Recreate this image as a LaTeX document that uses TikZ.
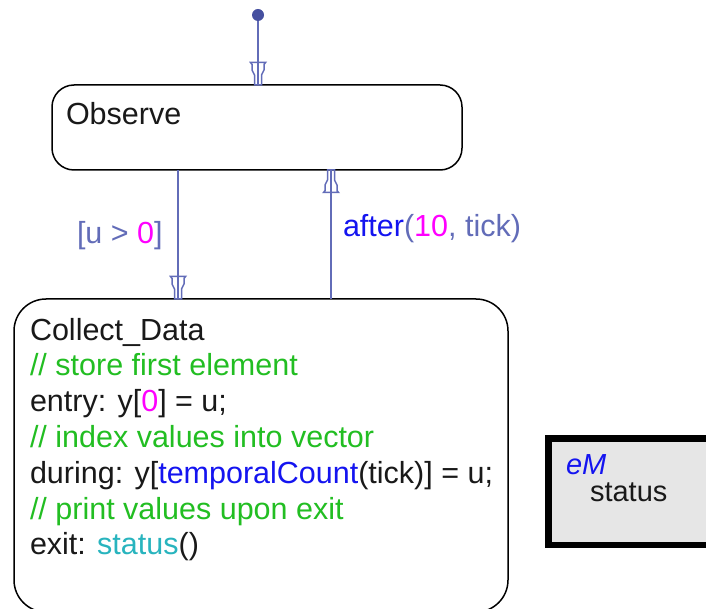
\documentclass[tikz,border=0pt]{standalone}
\usepackage{fontspec}
\setmainfont{Liberation Sans}
\definecolor{trcol}{RGB}{98,108,184}
\definecolor{initcol}{RGB}{70,80,160}
\definecolor{cmtgreen}{RGB}{34,190,34}
\definecolor{numcol}{RGB}{255,0,255}
\definecolor{kwblue}{RGB}{20,20,240}
\definecolor{fncyan}{RGB}{40,180,190}
\definecolor{txtcol}{RGB}{25,25,25}
\definecolor{fnfill}{RGB}{230,230,230}
\pgfdeclarearrow{
  name=SF,
  setup code={
    \pgfarrowssettipend{0pt}
    \pgfarrowssetlineend{0pt}
    \pgfarrowssetbackend{-23pt}
    \pgfarrowssetvisualbackend{-23pt}
  },
  drawing code={
    \pgfsetdash{}{0pt}
    \pgfsetmiterjoin
    \pgfpathmoveto{\pgfqpoint{0pt}{3.5pt}}
    \pgfpathlineto{\pgfqpoint{-10pt}{3.5pt}}
    \pgfpathlineto{\pgfqpoint{-15pt}{6pt}}
    \pgfpathlineto{\pgfqpoint{-20.5pt}{6pt}}
    \pgfpathlineto{\pgfqpoint{-22.5pt}{7.5pt}}
    \pgfpathlineto{\pgfqpoint{-22.5pt}{-7.5pt}}
    \pgfpathlineto{\pgfqpoint{-20.5pt}{-6pt}}
    \pgfpathlineto{\pgfqpoint{-15pt}{-6pt}}
    \pgfpathlineto{\pgfqpoint{-10pt}{-3.5pt}}
    \pgfpathlineto{\pgfqpoint{0pt}{-3.5pt}}
    \pgfpathclose
    \pgfusepathqstroke
  }
}
\begin{document}
\begin{tikzpicture}[x=1pt,y=-1pt,
  every node/.style={inner sep=0pt, outer sep=0pt},
  state/.style={draw=black, line width=1.5pt, fill=white},
  txt/.style={anchor=base west, text=txtcol, font=\fontsize{30.5}{36}\selectfont},
  trans/.style={draw=trcol, line width=1.5pt, -SF},
  lbl/.style={anchor=base west, text=trcol, font=\fontsize{30.5}{36}\selectfont}
]
\useasboundingbox (0,0) rectangle (706,609);
\clip (0,0) rectangle (706,609);

% states
\node[state, rounded corners=22pt, minimum width=410pt, minimum height=85pt] (obs) at (257,127.5) {};
\node[state, rounded corners=32pt, minimum width=494pt, minimum height=313pt] (cd) at (261,455.5) {};

\node[txt] (obsT) at (66,125) {Observe};

\node[txt] (cd1) at (30,340) {Collect\_Data};
\node[txt, text=cmtgreen] (cd2) at (30,375.8) {// store first element};
\node[txt] (cd3) at (30,411.6) {entry: y[\textcolor{numcol}{0}] = u;};
\node[txt, text=cmtgreen] (cd4) at (30,447.4) {// index values into vector};
\node[txt] (cd5) at (30,483.2) {during: y[\textcolor{kwblue}{temporalCount}(tick)] = u;};
\node[txt, text=cmtgreen] (cd6) at (30,519) {// print values upon exit};
\node[txt] (cd7) at (30,554.8) {exit: \textcolor{fncyan}{status}()};

% default transition
\node[circle, fill=initcol, minimum size=12pt] (init) at (258,15) {};
\draw[trans] (init) -- (init |- obs.north);

% transitions
\coordinate (xd) at (178,0);
\coordinate (xu) at (331,0);
\draw[trans] (xd |- obs.south) -- (xd |- cd.north);
\draw[trans] (xu |- cd.north) -- (xu |- obs.south);

\node[lbl] (l1) at (77,244) {[u > \textcolor{numcol}{0}]};
\node[lbl] (l2) at (343,237) {\textcolor{kwblue}{after}(\textcolor{numcol}{10}, tick)};

% graphical function
\node[draw=black, line width=6.5pt, fill=fnfill, minimum width=190pt, minimum height=106.5pt, anchor=north west] (fn) at (548.5,438.5) {};
\node[anchor=base west, text=kwblue, font=\fontsize{29}{34}\selectfont\itshape] (fnK) at (566,474) {eM};
\node[txt, font=\fontsize{29}{34}\selectfont] (fnN) at (590,501.5) {status};
\end{tikzpicture}
\end{document}
